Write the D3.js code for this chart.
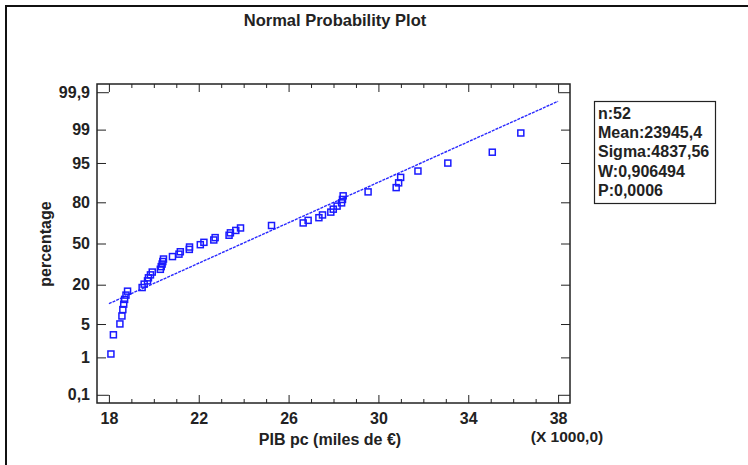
<!DOCTYPE html>
<html>
<head>
<meta charset="utf-8">
<script src="https://cdn.jsdelivr.net/npm/d3@7"></script>
<style>
  body { margin: 0; background: #fff; }
  svg text { font-family: "Liberation Sans", Arial, sans-serif; font-weight: bold; fill: #222; }
</style>
</head>
<body>
<div id="chart"></div>
<script>
// sorted PIB pc values (thousands of euros)
var pibValues = [18.09, 18.20, 18.49, 18.58, 18.62, 18.66, 18.70, 18.76, 18.83,
    19.48, 19.57, 19.72, 19.76, 19.85, 19.93, 20.29, 20.33, 20.37, 20.40, 20.43,
    20.83, 21.12, 21.18, 21.58, 21.59, 22.07, 22.23, 22.67, 22.73, 23.35,
    23.41, 23.65, 23.86, 25.24, 26.65, 26.87, 27.35, 27.51, 27.88, 27.99,
    28.16, 28.36, 28.40, 28.43, 29.54, 30.79, 30.90, 30.99, 31.76, 33.09,
    35.07, 36.34];
// cumulative percentage of each point
var pctValues = [1.20, 3.11, 5.02, 6.94, 8.85, 10.77, 12.68, 14.59, 16.51, 18.42,
    20.33, 22.25, 24.16, 26.08, 27.99, 29.90, 31.82, 33.73, 35.65, 37.56,
    39.47, 41.39, 43.30, 45.22, 47.13, 49.04, 50.96, 52.87, 54.78, 56.70,
    58.61, 60.53, 62.44, 64.35, 66.27, 68.18, 70.10, 72.01, 73.92, 75.84,
    77.75, 79.67, 81.58, 83.49, 85.41, 87.32, 89.23, 91.15, 93.06, 94.98,
    96.89, 98.80];

var xTicks = [18, 22, 26, 30, 34, 38];
var xMinorTicks = [19, 20, 21, 23, 24, 25, 27, 28, 29, 31, 32, 33, 35, 36, 37];
var yTickValues = [0.1, 1, 5, 20, 50, 80, 95, 99, 99.9];
var yTickLabels = ["0,1", "1", "5", "20", "50", "80", "95", "99", "99,9"];
var statLines = ["n:52", "Mean:23945,4", "Sigma:4837,56", "W:0,906494", "P:0,0006"];
var fitMean = 23.9454, fitSigma = 4.83756;

// inverse normal cdf (Acklam), p in 0..1
function probit(p) {
    var a = [-3.969683028665376e+01, 2.209460984245205e+02, -2.759285104469687e+02, 1.383577518672690e+02, -3.066479806614716e+01, 2.506628277459239e+00],
        b = [-5.447609879822406e+01, 1.615858368580409e+02, -1.556989798598866e+02, 6.680131188771972e+01, -1.328068155288572e+01],
        c = [-7.784894002430293e-03, -3.223964580411365e-01, -2.400758277161838e+00, -2.549732539343734e+00, 4.374664141464968e+00, 2.938163982698783e+00],
        d = [7.784695709041462e-03, 3.224671290700398e-01, 2.445134137142996e+00, 3.754408661907416e+00];
    var q, r;
    if (p < 0.02425) {
        q = Math.sqrt(-2 * Math.log(p));
        return (((((c[0] * q + c[1]) * q + c[2]) * q + c[3]) * q + c[4]) * q + c[5]) /
            ((((d[0] * q + d[1]) * q + d[2]) * q + d[3]) * q + 1);
    } else if (p > 1 - 0.02425) {
        q = Math.sqrt(-2 * Math.log(1 - p));
        return -(((((c[0] * q + c[1]) * q + c[2]) * q + c[3]) * q + c[4]) * q + c[5]) /
            ((((d[0] * q + d[1]) * q + d[2]) * q + d[3]) * q + 1);
    }
    q = p - 0.5;
    r = q * q;
    return (((((a[0] * r + a[1]) * r + a[2]) * r + a[3]) * r + a[4]) * r + a[5]) * q /
        (((((b[0] * r + b[1]) * r + b[2]) * r + b[3]) * r + b[4]) * r + 1);
}

var svg = d3.select("#chart").append("svg")
    .attr("width", 748)
    .attr("height", 465);

// window border
svg.append("path")
    .attr("d", "M6,465V6H748")
    .attr("fill", "none")
    .attr("stroke", "#111")
    .attr("stroke-width", 2);

var box = {left: 97, right: 570, top: 84, bottom: 403};

var x = d3.scaleLinear()
    .domain([17.47, 38.53])
    .range([box.left, box.right]);

// y is linear in normal quantiles
var y = d3.scaleLinear()
    .domain([-3.258, 3.258])
    .range([box.bottom, box.top]);

function yPct(p) { return y(probit(p / 100)); }

var yTickZ = yTickValues.map(function (p) { return probit(p / 100); });

// bottom axis
svg.append("g")
    .attr("transform", "translate(0," + box.bottom + ")")
    .call(d3.axisBottom(x).tickValues(xTicks).tickSize(-8).tickPadding(10).tickFormat(d3.format("d")));
svg.append("g")
    .attr("transform", "translate(0," + box.bottom + ")")
    .call(d3.axisBottom(x).tickValues(xMinorTicks).tickSize(-4).tickFormat(""));
// top axis
svg.append("g")
    .attr("transform", "translate(0," + box.top + ")")
    .call(d3.axisTop(x).tickValues(xTicks).tickSize(-8).tickFormat(""));
svg.append("g")
    .attr("transform", "translate(0," + box.top + ")")
    .call(d3.axisTop(x).tickValues(xMinorTicks).tickSize(-4).tickFormat(""));

// left axis
var yAxis = svg.append("g")
    .attr("transform", "translate(" + box.left + ",0)")
    .call(d3.axisLeft(y).tickValues(yTickZ).tickSize(-9).tickPadding(7)
        .tickFormat(function (d, i) { return yTickLabels[i]; }));
// right axis
var yAxisR = svg.append("g")
    .attr("transform", "translate(" + box.right + ",0)")
    .call(d3.axisRight(y).tickValues(yTickZ).tickSize(-9).tickFormat(""));

svg.selectAll(".domain").remove();
svg.selectAll(".tick line").attr("stroke", "#222");
svg.selectAll(".tick text").style("font-size", "16px").attr("fill", "#222");

// corner ticks reach the 18 / 38 ticks
var cornerLen = x(18) - box.left;
yAxis.selectAll(".tick line").filter(function (d, i) { return i === 0 || i === yTickZ.length - 1; })
    .attr("x2", cornerLen);
yAxisR.selectAll(".tick line").filter(function (d, i) { return i === 0 || i === yTickZ.length - 1; })
    .attr("x2", -cornerLen);

// plot frame
svg.append("rect")
    .attr("x", box.left)
    .attr("y", box.top)
    .attr("width", box.right - box.left)
    .attr("height", box.bottom - box.top)
    .attr("fill", "none")
    .attr("stroke", "#222")
    .attr("stroke-width", 1.5);

// fitted normal line
svg.append("line")
    .attr("x1", x(18))
    .attr("y1", y((18 - fitMean) / fitSigma))
    .attr("x2", x(38))
    .attr("y2", y((38 - fitMean) / fitSigma))
    .attr("stroke", "#2a2aff")
    .attr("stroke-width", 1.4)
    .attr("stroke-dasharray", "3,1");

// data points
svg.append("g")
    .selectAll("rect")
    .data(pibValues)
    .enter().append("rect")
    .attr("x", function (d) { return x(d) - 3; })
    .attr("y", function (d, i) { return yPct(pctValues[i]) - 3; })
    .attr("width", 6)
    .attr("height", 6)
    .attr("fill", "none")
    .attr("stroke", "#1a1aff")
    .attr("stroke-width", 1.5);

// title
svg.append("text")
    .attr("x", 335)
    .attr("y", 26)
    .attr("text-anchor", "middle")
    .style("font-size", "16.5px")
    .text("Normal Probability Plot");

// axis titles
svg.append("text")
    .attr("x", 330)
    .attr("y", 445)
    .attr("text-anchor", "middle")
    .style("font-size", "16px")
    .text("PIB pc (miles de €)");

svg.append("text")
    .attr("x", 567)
    .attr("y", 442)
    .attr("text-anchor", "middle")
    .style("font-size", "15.5px")
    .text("(X 1000,0)");

svg.append("text")
    .attr("transform", "translate(51," + 244 + ") rotate(-90)")
    .attr("text-anchor", "middle")
    .style("font-size", "16px")
    .text("percentage");

// stats box
svg.append("rect")
    .attr("x", 594.5)
    .attr("y", 101.5)
    .attr("width", 121)
    .attr("height", 102)
    .attr("fill", "none")
    .attr("stroke", "#222")
    .attr("stroke-width", 1.2);

svg.append("g")
    .selectAll("text")
    .data(statLines)
    .enter().append("text")
    .attr("x", 598)
    .attr("y", function (d, i) { return 118.5 + i * 19.4; })
    .style("font-size", "16px")
    .text(function (d) { return d; });
</script>
</body>
</html>
